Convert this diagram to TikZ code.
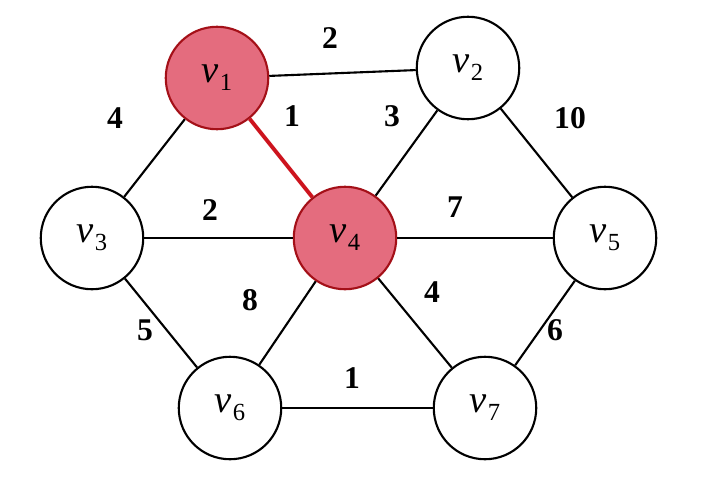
\documentclass[tikz,border=0pt]{standalone}
\usepackage{fontspec}
\setmainfont{Liberation Serif}
\definecolor{picked}{RGB}{228,108,126}
\definecolor{pickedline}{RGB}{205,20,30}
\newcommand{\vname}[1]{\textit{v}\kern0.5pt\raisebox{-0.45ex}{\fontsize{14}{14}\selectfont #1}}
\tikzset{vertex/.style={draw, circle, line width=1.2pt, minimum size=2.05cm, inner sep=0pt, font=\fontsize{22}{22}\selectfont},
  chosen/.style={vertex, fill=picked, draw=pickedline!80!black},
  edge/.style={line width=1.2pt},
  wt/.style={font=\bfseries\fontsize{18}{18}\selectfont}}
\begin{document}
\begin{tikzpicture}[x=0.02cm,y=-0.02cm]
\useasboundingbox (0,0) rectangle (712,477);
% vertices
\node[chosen] (v1) at (217,78) {\vname{1}};
\node[vertex] (v2) at (468,68) {\vname{2}};
\node[vertex] (v3) at (92,238) {\vname{3}};
\node[chosen] (v4) at (345,238) {\vname{4}};
\node[vertex] (v5) at (605,238) {\vname{5}};
\node[vertex] (v6) at (230,408) {\vname{6}};
\node[vertex] (v7) at (485,408) {\vname{7}};
% edges
\draw[edge] (v1) -- (v2);
\draw[edge] (v1) -- (v3);
\draw[edge] (v2) -- (v4);
\draw[edge] (v2) -- (v5);
\draw[edge] (v3) -- (v4);
\draw[edge] (v4) -- (v5);
\draw[edge] (v3) -- (v6);
\draw[edge] (v4) -- (v6);
\draw[edge] (v4) -- (v7);
\draw[edge] (v5) -- (v7);
\draw[edge] (v6) -- (v7);
\draw[edge, line width=2.2pt, pickedline] (v1) -- (v4);
% weights
\node[wt] (w12) at (330,38) {2};
\node[wt] (w14) at (292,116) {1};
\node[wt] (w13) at (115,118) {4};
\node[wt] (w24) at (392,116) {3};
\node[wt] (w25) at (570,118) {10};
\node[wt] (w34) at (210,210) {2};
\node[wt] (w45) at (455,207) {7};
\node[wt] (w36) at (145,330) {5};
\node[wt] (w46) at (250,300) {8};
\node[wt] (w47) at (432,292) {4};
\node[wt] (w57) at (555,330) {6};
\node[wt] (w67) at (352,378) {1};
\end{tikzpicture}
\end{document}
